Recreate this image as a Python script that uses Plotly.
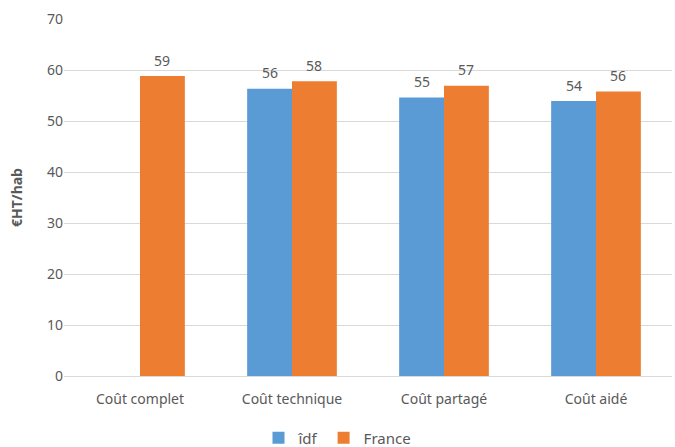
import plotly.graph_objects as go

# %% data
categories = ["Coût complet", "Coût technique", "Coût partagé", "Coût aidé"]
idf = [None, 56.3, 54.6, 53.9]
france = [58.8, 57.8, 56.9, 55.8]

blue = "#5B9BD5"
orange = "#ED7D31"
grey = "#595959"
font = "Noto Sans"

# %% figure
fig = go.Figure()
fig.add_trace(go.Bar(x=categories, y=idf, name="îdf",
                     marker=dict(color=blue, line=dict(width=0))))
fig.add_trace(go.Bar(x=categories, y=france, name="France",
                     marker=dict(color=orange, line=dict(width=0))))

# value labels above bars
for series, shift in ((idf, -22), (france, 22)):
    for cat, v in zip(categories, series):
        if v is None:
            continue
        fig.add_annotation(x=cat, y=v, text=f"{v:.0f}", showarrow=False,
                           xshift=shift, yshift=16,
                           font=dict(size=14, color=grey, family=font))

fig.update_layout(
    width=675, height=447,
    margin=dict(l=64, r=3, t=19, b=71, autoexpand=False),
    plot_bgcolor="white", paper_bgcolor="white",
    barmode="group", bargap=0.41, bargroupgap=0,
    font=dict(family=font, size=13, color=grey),
    showlegend=True,
    legend=dict(orientation="h", xref="container", x=0.5, xanchor="center",
                yref="container", y=0.02, yanchor="middle",
                font=dict(size=15, color=grey), itemwidth=30,
                tracegroupgap=0),
)
fig.update_xaxes(showline=True, linecolor="#d9d9d9", ticks="",
                 ticklabelstandoff=10,
                 tickfont=dict(size=14, color=grey))
fig.update_yaxes(range=[0, 70], dtick=10, showgrid=True, gridcolor="#d9d9d9",
                 zeroline=False, ticks="", tickfont=dict(size=14, color=grey),
                 ticklabelstandoff=0,
                 title=dict(text="<b>€HT/hab</b>", font=dict(size=14, color=grey),
                            standoff=21))

# page body has a default 8px margin; drop it so the figure fills the window
fig.write_html("out.html", config={"displayModeBar": False},
               post_script="document.body.style.margin='0';")
